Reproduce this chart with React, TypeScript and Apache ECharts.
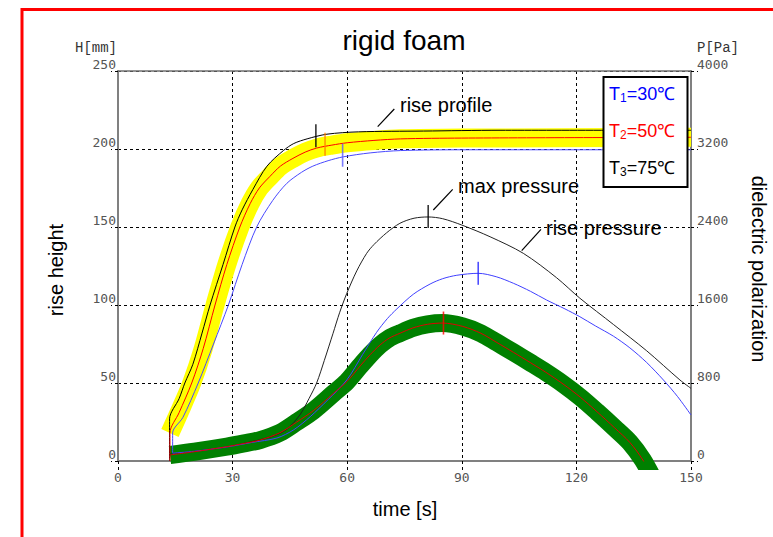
import React, { useEffect, useRef } from 'react';
import * as echarts from 'echarts';

// rise height H [mm] vs time [s]
const riseT3: [number, number][] = [
  [13.5, 0], [13.5, 27], [16, 40], [17.5, 50], [19.6, 62], [22, 82], [24.1, 100], [27.5, 126],
  [30.6, 150], [32.5, 161], [35.3, 174], [39, 189], [43.3, 199], [46, 203.5], [49.5, 206.5],
  [54.7, 209.5], [63, 211], [80, 211.5], [100, 212], [150, 212],
];
const riseT2: [number, number][] = [
  [13.6, 0], [13.6, 18], [16, 31], [19.3, 50], [22.3, 72], [25.4, 100], [28.5, 126], [31.9, 150],
  [34.6, 165], [37, 175], [39.8, 182.5], [42.5, 189], [45.8, 194], [49, 198], [52, 200.6],
  [56, 202.5], [60, 204], [67, 205.5], [74, 206.5], [90, 207], [150, 207.5],
];
const riseT1: [number, number][] = [
  [14.3, 5], [14.3, 18], [17, 28], [21, 50], [25, 75], [28.9, 100], [32.5, 126], [36.3, 150],
  [40.5, 167], [44.2, 178], [48, 185], [51, 189], [55, 192.5], [59, 195], [66, 197.5],
  [74, 199], [90, 199.5], [150, 199.5],
];

// pressure P [Pa] vs time [s]
const presT3: [number, number][] = [
  [13.6, 70], [20, 100], [28.5, 144], [34, 190], [39.8, 246], [44, 320], [47.6, 472], [50, 640],
  [52, 800], [54, 1030], [56.3, 1310], [58, 1520], [59.9, 1720], [62.5, 1950], [65.1, 2130],
  [67, 2220], [70.3, 2340], [73.8, 2438], [77.5, 2490], [81.2, 2503], [85, 2485], [90, 2420],
  [97.4, 2300], [106.1, 2130], [114.8, 1880], [120.9, 1670], [129.7, 1400], [138.4, 1130],
  [147.1, 831], [150, 745],
];
const presT2: [number, number][] = [
  [13.6, 62], [20, 95], [28.5, 147], [33, 180], [37.2, 215], [42.4, 290], [46.8, 400], [51.1, 515],
  [56.4, 694], [59.9, 813], [63.4, 975], [66, 1090], [68.6, 1190], [71, 1260], [73.8, 1310],
  [77.2, 1365], [81, 1402], [85, 1415], [90.3, 1380], [95, 1310], [99.2, 1215], [103.5, 1115],
  [107.9, 1010], [112, 910], [116.5, 790], [121, 655], [125.4, 505], [130, 340], [134, 190],
  [137.4, 10], [141, -250],
];
const presT1: [number, number][] = [
  [14.3, 80], [20, 100], [28.5, 144], [35, 190], [41.6, 236], [46, 320], [50.3, 454], [55, 630],
  [59.9, 831], [64, 1090], [67.7, 1320], [70.5, 1460], [73, 1560], [77.3, 1710], [81.7, 1815],
  [85, 1870], [88.7, 1905], [94.3, 1925], [99, 1890], [103.5, 1823], [108, 1740], [112.2, 1651],
  [117, 1560], [120.9, 1480], [125, 1385], [129.7, 1280], [134, 1160], [138.4, 1010],
  [142.8, 830], [146.5, 660], [150, 472],
];

// characteristic points (vertical tick marks)
const riseMarkT3: [number, number][] = [[51.8, 208.5]];
const riseMarkT2: [number, number][] = [[54.2, 203]];
const riseMarkT1: [number, number][] = [[58.8, 196]];
const presMarkT3: [number, number][] = [[81.2, 2508]];
const presMarkT2: [number, number][] = [[85.2, 1415]];
const presMarkT1: [number, number][] = [[94.3, 1925]];

const legendTemps = ['30', '50', '75'];
const legendColors = ['#0000ff', '#ff0000', '#000000'];

const SANS = '"Liberation Sans", Arial, sans-serif';
const MONO = '"DejaVu Sans Mono", monospace';

export default function App() {
  const ref = useRef<HTMLDivElement>(null);
  useEffect(() => {
    if (!ref.current) return;
    const chart = echarts.init(ref.current, undefined, { renderer: 'svg' });
    const dash = [3, 3];
    const line = (name: string, data: [number, number][], color: string, yAxisIndex: number, width = 1, z = 3) => ({
      name,
      type: 'line',
      data,
      yAxisIndex,
      showSymbol: false,
      symbol: 'none',
      smooth: 0.3,
      clip: true,
      z,
      lineStyle: { color, width, cap: 'butt', join: 'round' },
    });
    const mark = (data: [number, number][], color: string, yAxisIndex: number) => ({
      type: 'scatter',
      data,
      yAxisIndex,
      symbol: 'rect',
      symbolSize: [1.6, 23],
      itemStyle: { color },
      z: 5,
    });
    const legendItems = legendTemps.map((t, i) => ({
      type: 'text',
      x: 609,
      y: [94.4, 130.6, 167.7][i],
      z: 101,
      style: {
        text: `{m|T}{s|${i + 1}}{m|=${t}℃}`,
        textVerticalAlign: 'middle',
        textAlign: 'left',
        rich: {
          m: { fontSize: 18, fontFamily: SANS, fill: legendColors[i], lineHeight: 20 },
          s: { fontSize: 12, fontFamily: SANS, fill: legendColors[i], lineHeight: 12, verticalAlign: 'bottom' },
        },
      },
    }));
    const plain = (v: number) => String(v);
    const option: any = {
      animation: false,
      backgroundColor: '#ffffff',
      grid: { left: 118, right: 82, top: 71, bottom: 76, containLabel: false },
      xAxis: [
        {
          type: 'value', min: 0, max: 150, interval: 30, position: 'bottom',
          axisLine: { show: true, onZero: false, lineStyle: { color: '#808080', width: 2 } },
          axisTick: { show: true, length: 9, lineStyle: { color: '#000', type: dash } },
          axisLabel: { margin: 10, fontFamily: MONO, fontSize: 13, color: '#555', formatter: plain },
          splitLine: { show: true, lineStyle: { color: '#000', type: dash, width: 1 } },
        },
        {
          type: 'value', min: 0, max: 150, position: 'top',
          axisLine: { show: true, onZero: false, lineStyle: { color: '#707070', width: 1.5 } },
          axisTick: { show: false }, axisLabel: { show: false }, splitLine: { show: false },
        },
      ],
      yAxis: [
        {
          type: 'value', min: 0, max: 250, interval: 50, position: 'left',
          axisLine: { show: true, onZero: false, lineStyle: { color: '#808080', width: 2 } },
          axisTick: { show: true, length: 7, lineStyle: { color: '#000', type: dash } },
          axisLabel: { margin: 2, verticalAlign: 'bottom', fontFamily: MONO, fontSize: 13, color: '#555', formatter: plain },
          splitLine: { show: true, lineStyle: { color: '#000', type: dash, width: 1 } },
        },
        {
          type: 'value', min: 0, max: 4000, interval: 800, position: 'right',
          axisLine: { show: true, onZero: false, lineStyle: { color: '#808080', width: 2 } },
          axisTick: { show: true, length: 7, lineStyle: { color: '#000', type: dash } },
          axisLabel: { margin: 6, align: 'left', verticalAlign: 'bottom', fontFamily: MONO, fontSize: 13, color: '#555', formatter: plain },
          splitLine: { show: false },
        },
      ],
      series: [
        line('rise band', riseT2.slice(1), '#ffff00', 0, 19, 1),
        line('pressure band', presT2, '#008000', 1, 18, 1),
        line('rise T3', riseT3, '#000000', 0),
        line('rise T2', riseT2, '#ff0000', 0),
        line('rise T1', riseT1, '#4848ff', 0),
        line('pressure T3', presT3, '#222222', 1),
        line('pressure T1', presT1, '#4040ff', 1),
        line('pressure T2', presT2, '#e00000', 1),
        mark(riseMarkT3, '#000000', 0),
        mark(riseMarkT2, '#ff8000', 0),
        mark(riseMarkT1, '#5a5aff', 0),
        mark(presMarkT3, '#000000', 1),
        mark(presMarkT2, '#ff0000', 1),
        mark(presMarkT1, '#2020ff', 1),
      ],
      graphic: [
        { type: 'rect', z: 100, shape: { x: 22, y: 9.5, width: 900, height: 700 }, style: { fill: 'none', stroke: '#ff0000', lineWidth: 3 } },
        { type: 'text', x: 404, y: 40.7, z: 100, style: { text: 'rigid foam', font: `28px ${SANS}`, fill: '#000', textAlign: 'center', textVerticalAlign: 'middle' } },
        { type: 'text', x: 117, y: 47.5, z: 100, style: { text: 'H[mm]', font: `14px "Liberation Mono", monospace`, fill: '#333', textAlign: 'right', textVerticalAlign: 'middle' } },
        { type: 'text', x: 697, y: 47.5, z: 100, style: { text: 'P[Pa]', font: `14px "Liberation Mono", monospace`, fill: '#333', textAlign: 'left', textVerticalAlign: 'middle' } },
        { type: 'text', x: 55.5, y: 270, rotation: Math.PI / 2, z: 100, style: { text: 'rise height', font: `20px ${SANS}`, fill: '#000', textAlign: 'center', textVerticalAlign: 'middle' } },
        { type: 'text', x: 759, y: 269, rotation: -Math.PI / 2, z: 100, style: { text: 'dielectric polarization', font: `20px ${SANS}`, fill: '#000', textAlign: 'center', textVerticalAlign: 'middle' } },
        { type: 'text', x: 405, y: 509, z: 100, style: { text: 'time [s]', font: `20px ${SANS}`, fill: '#000', textAlign: 'center', textVerticalAlign: 'middle' } },
        { type: 'text', x: 400, y: 105, z: 100, style: { text: 'rise profile', font: `20px ${SANS}`, fill: '#000', textAlign: 'left', textVerticalAlign: 'middle' } },
        { type: 'text', x: 458, y: 186, z: 100, style: { text: 'max pressure', font: `20px ${SANS}`, fill: '#000', textAlign: 'left', textVerticalAlign: 'middle' } },
        { type: 'text', x: 546, y: 228, z: 100, style: { text: 'rise pressure', font: `20px ${SANS}`, fill: '#000', textAlign: 'left', textVerticalAlign: 'middle' } },
        { type: 'line', z: 100, shape: { x1: 377.7, y1: 126.7, x2: 394.3, y2: 109 }, style: { stroke: '#000', lineWidth: 1.2 } },
        { type: 'line', z: 100, shape: { x1: 433.3, y1: 210, x2: 452.7, y2: 189.3 }, style: { stroke: '#000', lineWidth: 1.2 } },
        { type: 'line', z: 100, shape: { x1: 521.7, y1: 250.7, x2: 541, y2: 229.3 }, style: { stroke: '#000', lineWidth: 1.2 } },
        { type: 'rect', z: 100, shape: { x: 603.5, y: 77, width: 84, height: 110 }, style: { fill: '#ffffff', stroke: '#000', lineWidth: 2 } },
        ...legendItems,
      ],
    };
    chart.setOption(option);
    return () => chart.dispose();
  }, []);
  return <div ref={ref} style={{ position: 'absolute', left: 0, top: 0, width: 773, height: 537 }} />;
}
